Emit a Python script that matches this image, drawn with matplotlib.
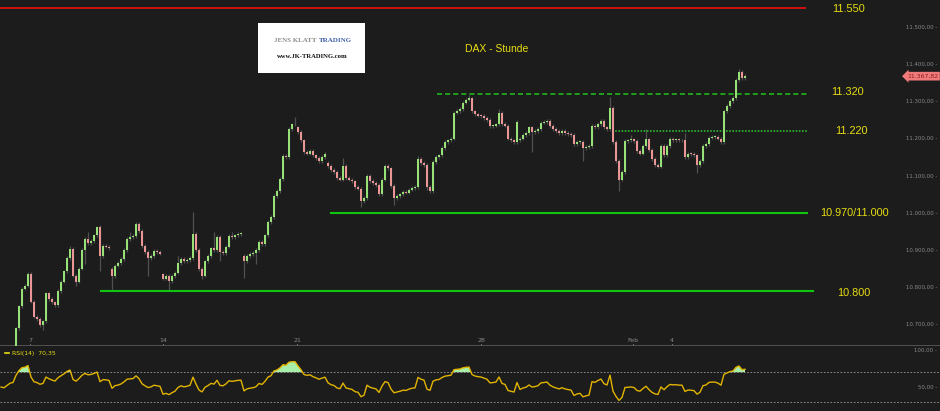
import numpy as np
import matplotlib
matplotlib.use('Agg')
import matplotlib.pyplot as plt
import matplotlib.transforms as mtransforms

# DAX hourly closes (first five bars lie below the visible range)
closes = [
    10600, 10595, 10610, 10625, 10630,
    10690, 10749, 10797, 10805, 10837, 10762, 10722, 10715, 10700, 10709,
    10784, 10770, 10760, 10752, 10790, 10816, 10843, 10880, 10904, 10832,
    10816, 10851, 10900, 10931, 10920, 10925, 10940, 10963, 10885, 10912,
    10910, 10905, 10830, 10859, 10865, 10877, 10900, 10931, 10935, 10939,
    10971, 10952, 10912, 10895, 10880, 10885, 10899, 10895, 10891, 10824,
    10830, 10818, 10830, 10840, 10865, 10877, 10870, 10874, 10880, 10945,
    10900, 10850, 10832, 10870, 10885, 10905, 10900, 10936, 10896, 10893,
    10910, 10939, 10935, 10940, 10944, 10945, 10870, 10885, 10890, 10893,
    10900, 10923, 10917, 10940, 10976, 10990, 11046, 11060, 11091, 11153,
    11150, 11225, 11238, 11240, 11217, 11195, 11165, 11160, 11166, 11155,
    11148, 11140, 11150, 11158, 11127, 11115, 11110, 11095, 11090, 11126,
    11095, 11090, 11085, 11070, 11066, 11033, 11040, 11100, 11086, 11080,
    11075, 11050, 11090, 11126, 11120, 11073, 11040, 11045, 11050, 11057,
    11055, 11063, 11068, 11070, 11145, 11135, 11130, 11070, 11060, 11137,
    11150, 11155, 11175, 11190, 11195, 11200, 11270, 11275, 11280, 11297,
    11305, 11308, 11273, 11265, 11262, 11260, 11255, 11250, 11233, 11235,
    11238, 11270, 11240, 11235, 11200, 11195, 11190, 11246, 11200, 11210,
    11215, 11230, 11217, 11220, 11225, 11243, 11245, 11248, 11233, 11225,
    11220, 11215, 11220, 11215, 11212, 11210, 11185, 11190, 11192, 11175,
    11178, 11180, 11233, 11230, 11240, 11247, 11230, 11225, 11283, 11190,
    11140, 11090, 11110, 11193, 11195, 11198, 11193, 11166, 11160, 11180,
    11198, 11170, 11145, 11130, 11125, 11180, 11155, 11180, 11200, 11197,
    11198, 11195, 11195, 11150, 11160, 11158, 11155, 11130, 11140, 11180,
    11185, 11203, 11205, 11205, 11200, 11190, 11273, 11287, 11302, 11309,
    11358, 11380, 11362, 11367.82,
]
# opens that gap away from the previous close
gap_opens = {37: 10850, 54: 10835, 81: 10885, 99: 11230, 109: 11135, 173: 11195}
# long wicks
high_spikes = {23: 10912, 29: 10950, 32: 10966, 43: 10950, 45: 10976, 59: 10885,
               64: 11003, 71: 10950, 77: 10950, 98: 11258, 114: 11148, 139: 11152,
               156: 11318, 166: 11280, 172: 11250, 182: 11252, 203: 11313,
               210: 11210, 215: 11225, 228: 11215, 246: 11387}
low_spikes = {14: 10685, 25: 10803, 28: 10864, 33: 10845, 37: 10790, 49: 10830,
              56: 10790, 67: 10824, 73: 10870, 81: 10826, 85: 10862, 120: 11015,
              131: 11022, 142: 11062, 177: 11165, 194: 11140, 206: 11058,
              219: 11120, 232: 11108}

levels = [11550, 11320, 11220, 11000, 10790]
level_labels = ['11.550', '11.320', '11.220', '10.970/11.000', '10.800']
price_ticks = [11500, 11400, 11300, 11200, 11100, 11000, 10900, 10800, 10700]
date_labels = ['7', '14', '21', '28', 'Feb', '4']
date_pos = [9.67, 54, 98.67, 160, 210.67, 223.67]

bg = '#1c1c1c'
up_col = '#96e276'
dn_col = '#ea9696'
yellow = '#e8de12'
grey = '#8a8a8a'

closes = np.array(closes, dtype=float)
opens = np.r_[closes[0], closes[:-1]]
for k, v in gap_opens.items():
    opens[k] = v
highs = np.maximum(opens, closes) + 5
lows = np.minimum(opens, closes) - 5
for k, v in high_spikes.items():
    highs[k] = v
for k, v in low_spikes.items():
    lows[k] = v
x = np.arange(len(closes))

# RSI(14), Wilder smoothing
avg_g = avg_l = 10.0
rsi = []
for d in np.diff(closes, prepend=closes[0]):
    avg_g = (avg_g * 13 + max(d, 0)) / 14
    avg_l = (avg_l * 13 + max(-d, 0)) / 14
    rsi.append(100 * avg_g / (avg_g + avg_l))
rsi = np.array(rsi)

W, H = 940, 411
fig = plt.figure(figsize=(W / 100, H / 100), dpi=100, facecolor=bg)
ax = fig.add_axes([0, 65 / H, 1, 346 / H], facecolor=bg)
ax2 = fig.add_axes([0, 0, 1, 65 / H], facecolor=bg)

xl = (-1 / 3, (W - 1) / 3)
ax.set_xlim(*xl)
ax.set_ylim(10642.8, 11572.5)
ax2.set_xlim(*xl)
ax2.set_ylim(17.6, 105.4)
for a in (ax, ax2):
    for s in a.spines.values():
        s.set_visible(False)
    a.set_xticks([])
    a.set_yticks([])

# candles
cols = np.where(closes >= opens, up_col, dn_col)
ax.vlines(x, lows, highs, color='#505050', lw=0.9, zorder=2)
body = np.maximum(np.abs(closes - opens), 2.5)
ax.bar(x, body, bottom=np.minimum(opens, closes), width=0.75, color=cols,
       lw=0, zorder=3)

# support / resistance lines
ax.axhline(levels[0], xmin=0, xmax=805 / W, color='#d41010', lw=1.4)
ax.axhline(levels[1], xmin=437 / W, xmax=808 / W, color='#1fc41f', lw=1.1,
           dashes=(3.3, 2))
ax.axhline(levels[2], xmin=612 / W, xmax=808 / W, color='#2cb82c', lw=1.2,
           dashes=(1, 0.9))
ax.axhline(levels[3], xmin=331 / W, xmax=807 / W, color='#12c412', lw=1.5)
ax.axhline(levels[4], xmin=101 / W, xmax=813 / W, color='#12c412', lw=1.5)

tb = mtransforms.blended_transform_factory(ax.transAxes, ax.transData)
label_x = [849, 847, 851, 854, 854]
label_y = [11548, 11324, 11220, 11000, 10786]
for lab, lx, ly in zip(level_labels, label_x, label_y):
    ax.text(lx / W, ly, lab, transform=tb, color=yellow, fontsize=7.8,
            family='Liberation Sans', ha='center', va='center')

ax.text(497 / W, 1 - 49 / 346, 'DAX - Stunde', transform=ax.transAxes,
        color=yellow, fontsize=7.5, family='Liberation Sans',
        ha='center', va='center')

# logo box
fig.patches.append(plt.Rectangle((258 / W, 1 - 73.5 / H), 107 / W, 50 / H,
                                 transform=fig.transFigure, fc='white',
                                 ec='none', zorder=5))
fig.text(316.5 / W, 1 - 40.7 / H, 'JENS KLATT', color='#8c8c8c', fontsize=5.0,
         family='Liberation Serif', weight='bold', ha='right', va='center',
         zorder=6)
fig.text(318.5 / W, 1 - 40.7 / H, 'TRADING', color='#3d5fa6', fontsize=5.0,
         family='Liberation Serif', weight='bold', ha='left', va='center',
         zorder=6)
fig.text(312.5 / W, 1 - 56.7 / H, 'www.JK-TRADING.com', color='#111111',
         fontsize=4.8, family='Liberation Serif', weight='bold', ha='center',
         va='center', zorder=6)

# price axis labels
for p in price_ticks:
    s = f'{p:,.2f}'.replace(',', 'X').replace('.', ',').replace('X', '.')
    ax.text(937 / W, p, s + ' -', transform=tb, color=grey, fontsize=3.9,
            family='DejaVu Sans', ha='right', va='center')
ax.text(938 / W, closes[-1], '11.367,82', transform=tb, color='#8a1c1c',
        fontsize=4.4, family='DejaVu Sans', ha='right', va='center',
        bbox=dict(boxstyle='larrow,pad=0.3', fc='#f07a7a', ec='none'))

# date labels
tx = mtransforms.blended_transform_factory(ax.transData, ax.transAxes)
for lab, pos in zip(date_labels, date_pos):
    ax.text(pos, 6 / 346, lab, transform=tx, color=grey, fontsize=4.5,
            family='DejaVu Sans', ha='center', va='center')
    ax.plot([pos, pos], [0, 2.5 / 346], transform=tx, color=grey, lw=0.6)
ax.axhline(ax.get_ylim()[0], color='#5a5a5a', lw=1.2, clip_on=False)

# RSI panel
ax2.axhline(70, color='#9a9a9a', lw=0.6, dashes=(2, 2))
ax2.axhline(30, color='#9a9a9a', lw=0.6, dashes=(2, 2))
ax2.fill_between(x, 70, rsi, where=rsi > 70, interpolate=True,
                 color='#a8eea8', lw=0)
ax2.plot(x, rsi, color='#e2b400', lw=1.0)
ty = mtransforms.blended_transform_factory(ax2.transAxes, ax2.transData)
for v, s in [(100, '100,00 -'), (50, '50,00 -')]:
    ax2.text(937 / W, v, s, transform=ty, color=grey, fontsize=3.9,
             family='DejaVu Sans', ha='right', va='center')
ax2.plot([5 / W, 9 / W], [1 - 7 / 65] * 2, transform=ax2.transAxes,
         color=yellow, lw=1.2)
ax2.text(12 / W, 1 - 7 / 65, 'RSI(14)  70,35', transform=ax2.transAxes,
         color=yellow, fontsize=4.4, family='DejaVu Sans', ha='left',
         va='center')

fig.savefig('out.png', dpi=100, facecolor=bg)
